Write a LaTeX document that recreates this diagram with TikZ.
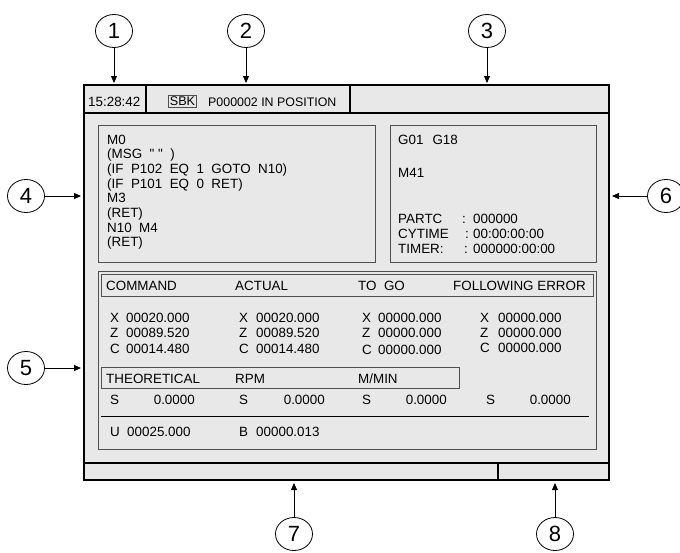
\documentclass[tikz,border=0pt]{standalone}
\usepackage{fontspec}
\setmainfont{Liberation Sans}
\usetikzlibrary{arrows.meta}
\usetikzlibrary{shapes.geometric}

\definecolor{screengray}{HTML}{E8E8E8}
\definecolor{framegray}{HTML}{505050}

\begin{document}
\begin{tikzpicture}[x=1pt, y=-1pt, >={Triangle[length=7pt,width=6pt]},
    bar/.style={line width=2.6pt, line cap=rect},
    panel/.style={draw=framegray, line width=0.9pt},
    txt/.style={anchor=base west, inner sep=0pt, font=\fontsize{13.4}{15}\selectfont},
    num/.style={anchor=base east, inner sep=0pt, font=\fontsize{13.4}{15}\selectfont},
    callout/.style={draw, ellipse, minimum width=37pt, minimum height=33pt, inner sep=0pt,
                    line width=0.8pt, font=\fontsize{22}{22}\selectfont},
    pointer/.style={->, line width=0.8pt}]

    \useasboundingbox (0,0) rectangle (680,552);

    % Bildschirm
    \fill[screengray] (84,85) rectangle (609,480);
    \draw[panel] (98,125) rectangle (375,262);
    \draw[panel] (390,125) rectangle (596,262);
    \draw[panel] (98,271) rectangle (596,449);
    \draw[panel] (101,274) rectangle (593,296);
    \draw[panel] (101,367) rectangle (459,388);
    \draw[line width=0.9pt] (101,416) -- (589,416);

    \draw[bar] (84,85) rectangle (609,480);
    \draw[bar] (84,113) -- (609,113);
    \draw[bar] (146,85) -- (146,113);
    \draw[bar] (350,85) -- (350,113);
    \draw[bar] (84,463) -- (609,463);
    \draw[bar] (498,463) -- (498,480);

    % Statuszeile
    \node[txt] (time) at (88,106) {15:28:42};
    \node[txt, draw=framegray, line width=0.8pt, inner sep=1.5pt, font=\fontsize{12.6}{15}\selectfont]
        (sbk) at (168,105.5) {SBK};
    \node[txt, font=\fontsize{12.4}{15}\selectfont] (status) at (208,106) {P000002 IN POSITION};

    % Programm
    \foreach \t [count=\i from 0] in {M0, {(MSG~~\textquotedbl~\textquotedbl~~)},
        {(IF~~P102~~EQ~~1~~GOTO~~N10)}, {(IF~~P101~~EQ~~0~~RET)}, M3, (RET), {N10~~M4}, (RET)}
        \node[txt] (prog\i) at (107,144+14.7*\i) {\t};

    % Modal / Zaehler
    \node[txt] (gcode) at (398,144) {G01\hspace{9pt}G18};
    \node[txt] (mcode) at (398,177) {M41};
    \foreach \lab/\val/\y/\cx [count=\i] in {PARTC/000000/223/462, CYTIME/00:00:00:00/238/465,
        TIMER:/000000:00:00/253/464} {
        \node[txt] (cnt\i) at (398,\y) {\lab};
        \node[txt] at (\cx,\y) {:};
        \node[txt] (cntval\i) at (473,\y) {\val};
    }

    % Achsen
    \node[txt] (hcmd) at (106,290) {COMMAND};
    \node[txt] (hact) at (235,290) {ACTUAL};
    \node[txt] (htogo) at (358,290) {TO~~GO};
    \node[txt] (hfe) at (453,290) {FOLLOWING ERROR};

    \foreach \lx/\vx/\xv/\zv/\cv/\dy in {110/126/00020.000/00089.520/00014.480/0,
        239/256/00020.000/00089.520/00014.480/0, 362/378/00000.000/00000.000/00000.000/1,
        480/498/00000.000/00000.000/00000.000/-1} {
        \node[txt] at (\lx,322) {X};  \node[txt] at (\vx,322) {\xv};
        \node[txt] at (\lx,337) {Z};  \node[txt] at (\vx,337) {\zv};
        \node[txt] at (\lx,353+\dy) {C};  \node[txt] at (\vx,353+\dy) {\cv};
    }

    % Spindel
    \node[txt] (htheo) at (106,383) {THEORETICAL};
    \node[txt] (hrpm) at (235,383) {RPM};
    \node[txt] (hmmin) at (358,383) {M/MIN};
    \foreach \sx/\ex in {110/195, 239/325, 362/447, 486/571} {
        \node[txt] at (\sx,404) {S};
        \node[num] at (\ex,404) {0.0000};
    }

    \node[txt] (uax) at (110,436) {U};
    \node[txt] (uval) at (127,436) {00025.000};
    \node[txt] (bax) at (239,436) {B};
    \node[txt] (bval) at (256,436) {00000.013};

    % Hinweise
    \foreach \n/\cx/\cy/\tx/\ty in {1/114/31/114/83, 2/246/31/246/83, 3/487/31/487/83,
        4/26/196/81/196, 5/26/368/81/368, 6/666/196/612/196,
        7/294/534/294/483, 8/555/534/555/483} {
        \node[callout] (c\n) at (\cx,\cy) {\n};
        \coordinate (t\n) at (\tx,\ty);
        \draw[pointer] (c\n) -- (t\n);
    }
\end{tikzpicture}
\end{document}
